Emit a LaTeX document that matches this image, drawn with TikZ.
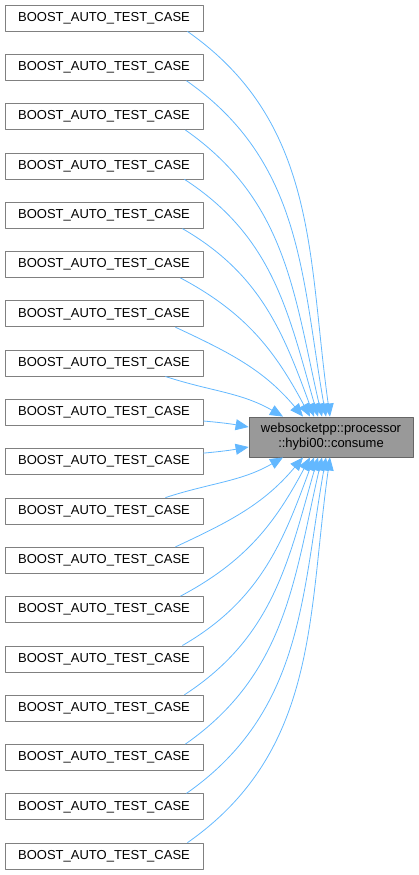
\documentclass[tikz,border=0pt]{standalone}
\usepackage{fontspec}
\setmainfont{Liberation Sans}
\usetikzlibrary{arrows.meta}
\definecolor{edgeblue}{RGB}{99,184,255}
\tikzset{
  fnbox/.style={draw=black!50,fill=white,line width=0.8pt,minimum width=198pt,minimum height=26pt,inner sep=0pt,font=\fontsize{13}{15}\selectfont},
  mainbox/.style={draw=black!60,fill=black!40,line width=0.8pt,minimum width=164pt,minimum height=40pt,inner sep=0pt,align=center,font=\fontsize{13}{15}\selectfont},
  edge/.style={draw=edgeblue,line width=0.8pt,-{Triangle[length=13pt,width=11pt]}}
}
\begin{document}
\begin{tikzpicture}[x=1pt,y=-1pt,line join=round]
\useasboundingbox (0,0) rectangle (418,875);

\node[mainbox] (tgt) at (331,437) {websocketpp::processor\\::hybi00::consume};

\node[fnbox] (s0) at (104,18) {BOOST\_AUTO\_TEST\_CASE};
\node[fnbox] (s1) at (104,67.3) {BOOST\_AUTO\_TEST\_CASE};
\node[fnbox] (s2) at (104,116.6) {BOOST\_AUTO\_TEST\_CASE};
\node[fnbox] (s3) at (104,165.9) {BOOST\_AUTO\_TEST\_CASE};
\node[fnbox] (s4) at (104,215.2) {BOOST\_AUTO\_TEST\_CASE};
\node[fnbox] (s5) at (104,264.5) {BOOST\_AUTO\_TEST\_CASE};
\node[fnbox] (s6) at (104,313.8) {BOOST\_AUTO\_TEST\_CASE};
\node[fnbox] (s7) at (104,363.1) {BOOST\_AUTO\_TEST\_CASE};
\node[fnbox] (s8) at (104,412.4) {BOOST\_AUTO\_TEST\_CASE};
\node[fnbox] (s9) at (104,461.7) {BOOST\_AUTO\_TEST\_CASE};
\node[fnbox] (s10) at (104,511) {BOOST\_AUTO\_TEST\_CASE};
\node[fnbox] (s11) at (104,560.3) {BOOST\_AUTO\_TEST\_CASE};
\node[fnbox] (s12) at (104,609.6) {BOOST\_AUTO\_TEST\_CASE};
\node[fnbox] (s13) at (104,658.9) {BOOST\_AUTO\_TEST\_CASE};
\node[fnbox] (s14) at (104,708.2) {BOOST\_AUTO\_TEST\_CASE};
\node[fnbox] (s15) at (104,757.5) {BOOST\_AUTO\_TEST\_CASE};
\node[fnbox] (s16) at (104,806.8) {BOOST\_AUTO\_TEST\_CASE};
\node[fnbox] (s17) at (104,856.1) {BOOST\_AUTO\_TEST\_CASE};

% callers above the target
\draw[edge] ([xshift=-16pt]s0.south east) to[out=-35,in=98] ([xshift=-1pt]tgt.north);
\draw[edge] ([xshift=-17pt]s1.south east) to[out=-35,in=100] ([xshift=-5pt]tgt.north);
\draw[edge] ([xshift=-18pt]s2.south east) to[out=-35,in=103] ([xshift=-9pt]tgt.north);
\draw[edge] ([xshift=-19pt]s3.south east) to[out=-33,in=106] ([xshift=-13pt]tgt.north);
\draw[edge] ([xshift=-21pt]s4.south east) to[out=-30,in=110] ([xshift=-17pt]tgt.north);
\draw[edge] ([xshift=-23pt]s5.south east) to[out=-28,in=118] ([xshift=-21pt]tgt.north);
\draw[edge] ([xshift=-28pt]s6.south east) to[out=-25,in=130] ([xshift=-28pt]tgt.north);
\draw[edge] ([xshift=-38pt]s7.south east) to[out=-18,in=150] ([xshift=-48pt]tgt.north);
\draw[edge] ([yshift=-8.6pt]s8.east) to[out=-5,in=170] ([yshift=10pt]tgt.west);
% callers below the target
\draw[edge] ([yshift=8.6pt]s9.east) to[out=5,in=-170] ([yshift=-10pt]tgt.west);
\draw[edge] ([xshift=-38pt]s10.north east) to[out=18,in=-150] ([xshift=-48pt]tgt.south);
\draw[edge] ([xshift=-28pt]s11.north east) to[out=25,in=-130] ([xshift=-28pt]tgt.south);
\draw[edge] ([xshift=-23pt]s12.north east) to[out=28,in=-118] ([xshift=-21pt]tgt.south);
\draw[edge] ([xshift=-21pt]s13.north east) to[out=30,in=-110] ([xshift=-17pt]tgt.south);
\draw[edge] ([xshift=-19pt]s14.north east) to[out=33,in=-106] ([xshift=-13pt]tgt.south);
\draw[edge] ([xshift=-18pt]s15.north east) to[out=35,in=-103] ([xshift=-9pt]tgt.south);
\draw[edge] ([xshift=-17pt]s16.north east) to[out=35,in=-100] ([xshift=-5pt]tgt.south);
\draw[edge] ([xshift=-16pt]s17.north east) to[out=35,in=-98] ([xshift=-1pt]tgt.south);
\end{tikzpicture}
\end{document}
